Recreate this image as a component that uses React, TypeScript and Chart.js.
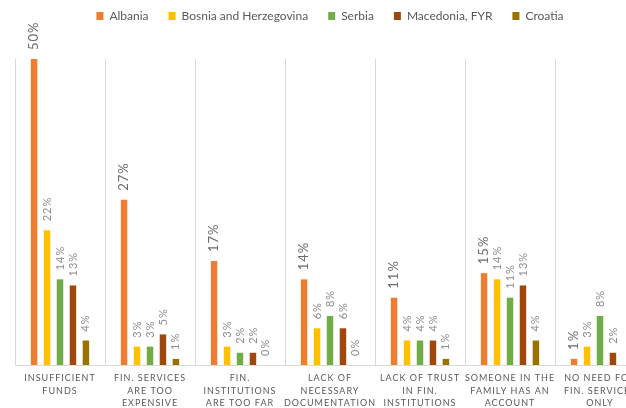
import React, { useEffect, useRef } from 'react';
import { Chart, registerables } from 'chart.js';

Chart.register(...registerables);

const categories: string[][] = [
  ['INSUFFICIENT', 'FUNDS'],
  ['FIN. SERVICES', 'ARE TOO', 'EXPENSIVE'],
  ['FIN.', 'INSTITUTIONS', 'ARE TOO FAR'],
  ['LACK OF', 'NECESSARY', 'DOCUMENTATION'],
  ['LACK OF TRUST', 'IN FIN.', 'INSTITUTIONS'],
  ['SOMEONE IN THE', 'FAMILY HAS AN', 'ACCOUNT'],
  ['NO NEED FOR', 'FIN. SERVICES', 'ONLY'],
];

const seriesNames = ['Albania', 'Bosnia and Herzegovina', 'Serbia', 'Macedonia, FYR', 'Croatia'];
const albania = [50, 27, 17, 14, 11, 15, 1];
const bosnia = [22, 3, 3, 6, 4, 14, 3];
const serbia = [14, 3, 2, 8, 4, 11, 8];
const macedonia = [13, 5, 2, 6, 4, 13, 2];
const croatia = [4, 1, 0, 0, 1, 4, null];
const seriesColors = ['#ED7D31', '#FFC000', '#70AD47', '#9E480E', '#997300'];

const FONT = 'Lato';

const valueLabels = {
  id: 'valueLabels',
  afterDatasetsDraw(chart: any) {
    const ctx = chart.ctx;
    chart.data.datasets.forEach((ds: any, di: number) => {
      const meta = chart.getDatasetMeta(di);
      meta.data.forEach((bar: any, i: number) => {
        const v = ds.data[i];
        if (v === null || v === undefined) return;
        ctx.save();
        ctx.translate(bar.x, bar.y - 9);
        ctx.rotate(-Math.PI / 2);
        ctx.font = di === 0 ? `13px ${FONT}` : `11px ${FONT}`;
        ctx.fillStyle = di === 0 ? '#6b6b6b' : '#8c8c8c';
        ctx.letterSpacing = '1px';
        ctx.textAlign = 'left';
        ctx.textBaseline = 'middle';
        ctx.fillText(v + '%', 0, 0);
        ctx.restore();
      });
    });
    // letter spacing for the category axis labels drawn next (ticks z: 1)
    ctx.letterSpacing = '1px';
  },
  afterDraw(chart: any) {
    chart.ctx.letterSpacing = '0px';
  },
};

const legendTweak = {
  id: 'legendTweak',
  beforeLayout(chart: any) {
    const lg = chart.legend;
    if (lg && !lg.__patched) {
      const orig = lg.fit;
      lg.fit = function () {
        orig.call(this);
        this.height = 59;
      };
      lg.__patched = true;
    }
  },
  afterLayout(chart: any) {
    const lg = chart.legend;
    if (lg) {
      lg.top -= 10;
      lg.bottom -= 10;
    }
  },
};

export default function App() {
  const ref = useRef<HTMLCanvasElement | null>(null);

  useEffect(() => {
    if (!ref.current) return;
    const allSeries = [albania, bosnia, serbia, macedonia, croatia];
    const chart = new Chart(ref.current, {
      type: 'bar',
      data: {
        labels: categories,
        datasets: allSeries.map((d, i) => ({
          label: seriesNames[i],
          data: d,
          backgroundColor: seriesColors[i],
          borderWidth: 0,
          categoryPercentage: 0.72,
          barPercentage: 0.5,
        })),
      },
      options: {
        responsive: false,
        animation: false,
        devicePixelRatio: 1,
        layout: { padding: { left: 15, right: 19, top: 0, bottom: 0 } },
        plugins: {
          legend: {
            position: 'top',
            labels: {
              boxWidth: 7,
              boxHeight: 8,
              padding: 20,
              color: '#595959',
              font: { family: FONT, size: 12 },
            },
          },
          tooltip: { enabled: false },
        },
        scales: {
          x: {
            grid: { color: '#d9d9d9', drawTicks: false, offset: true },
            border: { color: '#d9d9d9' },
            ticks: {
              z: 1,
              color: '#595959',
              font: { family: FONT, size: 9, lineHeight: 1.39 },
              padding: 7,
              maxRotation: 0,
              minRotation: 0,
              autoSkip: false,
            },
            afterFit: (scale: any) => {
              scale.height = 47;
            },
          },
          y: {
            display: false,
            min: 0,
            max: 50,
          },
        },
      },
      plugins: [valueLabels, legendTweak],
    } as any);
    return () => chart.destroy();
  }, []);

  return (
    <div
      style={{
        position: 'fixed',
        left: 0,
        top: 0,
        width: 626,
        height: 408,
        overflow: 'hidden',
        background: '#fff',
      }}
    >
      <canvas ref={ref} width={664} height={412} style={{ display: 'block' }} />
    </div>
  );
}
